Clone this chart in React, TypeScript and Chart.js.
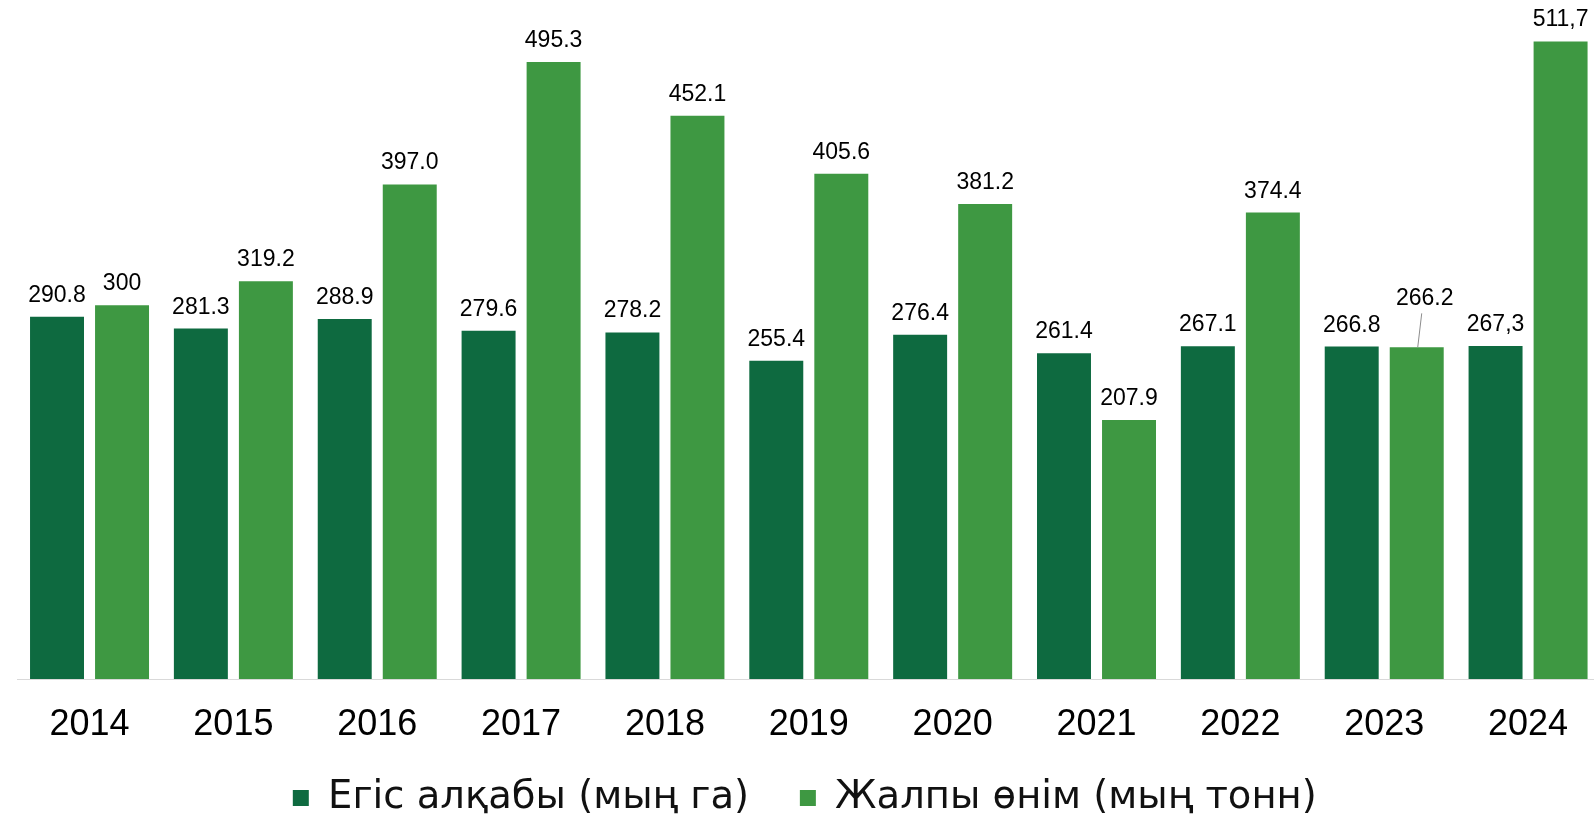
import React, { useEffect, useRef } from "react";
import { Chart, registerables } from "chart.js";

Chart.register(...registerables);

const years = ["2014", "2015", "2016", "2017", "2018", "2019", "2020", "2021", "2022", "2023", "2024"];
const areaValues = [290.8, 281.3, 288.9, 279.6, 278.2, 255.4, 276.4, 261.4, 267.1, 266.8, 267.3];
const yieldValues = [300, 319.2, 397.0, 495.3, 452.1, 405.6, 381.2, 207.9, 374.4, 266.2, 511.7];
const areaLabels = ["290.8", "281.3", "288.9", "279.6", "278.2", "255.4", "276.4", "261.4", "267.1", "266.8", "267,3"];
const yieldLabels = ["300", "319.2", "397.0", "495.3", "452.1", "405.6", "381.2", "207.9", "374.4", "266.2", "511,7"];
const seriesNames = ["Егіс алқабы (мың га)", "Жалпы өнім (мың тонн)"];

const DARK = "#0e6a40";
const LIGHT = "#3e9842";

const labelPlugin = {
  id: "barValueLabels",
  afterLayout(chart: any) {
    // give the x tick labels room to draw below the (compact) axis box
    const x = chart.scales.x;
    if (x) x.bottom = x.top + 90;
  },
  afterDatasetsDraw(chart: any) {
    const ctx = chart.ctx;
    const texts = [areaLabels, yieldLabels];
    ctx.save();
    ctx.font = "23px 'Liberation Sans', Arial, sans-serif";
    ctx.fillStyle = "#000";
    ctx.textAlign = "center";
    ctx.textBaseline = "alphabetic";
    chart.data.datasets.forEach((_ds: any, di: number) => {
      const meta = chart.getDatasetMeta(di);
      meta.data.forEach((bar: any, i: number) => {
        const txt = texts[di][i];
        // 2023 production label sits higher with a leader line
        if (di === 1 && i === 9) {
          ctx.fillText(txt, bar.x + 8, bar.y - 42);
          ctx.beginPath();
          ctx.strokeStyle = "#8c8c8c";
          ctx.lineWidth = 1;
          ctx.moveTo(bar.x + 5, bar.y - 34);
          ctx.lineTo(bar.x + 1, bar.y);
          ctx.stroke();
        } else {
          ctx.fillText(txt, bar.x, bar.y - 15);
        }
      });
    });
    ctx.restore();
  },
};

export default function App() {
  const ref = useRef<HTMLCanvasElement | null>(null);
  useEffect(() => {
    if (!ref.current) return;
    const chart = new Chart(ref.current, {
      type: "bar",
      data: {
        labels: years,
        datasets: [
          { label: seriesNames[0], data: areaValues, backgroundColor: DARK, borderWidth: 0 },
          { label: seriesNames[1], data: yieldValues, backgroundColor: LIGHT, borderWidth: 0 },
        ],
      },
      options: {
        animation: false,
        responsive: false,
        devicePixelRatio: 1,
        layout: { padding: { left: 9.6, right: 2, top: 0, bottom: 0.75 } },
        datasets: { bar: { categoryPercentage: 0.904, barPercentage: 0.83 } },
        scales: {
          x: {
            grid: { display: false, drawTicks: false },
            border: { display: true, color: "#d9d9d9", width: 1 },
            ticks: {
              color: "#000",
              padding: 24,
              font: { family: "'Liberation Sans', Arial, sans-serif", size: 36 },
            },
            afterFit: (scale: any) => {
              scale.height = 49;
            },
          },
          y: {
            display: true,
            min: 0,
            max: 545,
            grid: { display: false, drawTicks: false },
            border: { display: false },
            ticks: { display: false },
            afterFit: (scale: any) => {
              scale.width = 8;
            },
          },
        },
        plugins: {
          legend: {
            position: "bottom",
            labels: {
              boxWidth: 16,
              boxHeight: 16,
              padding: 50.75,
              color: "#111",
              font: { family: "'DejaVu Sans', sans-serif", size: 38.5 },
            },
          },
          tooltip: { enabled: false },
        },
      },
      plugins: [labelPlugin],
    } as any);
    return () => chart.destroy();
  }, []);
  return (
    <div style={{ position: "fixed", left: 0, top: 0, width: 1594, height: 823, overflow: "hidden", background: "#fff" }}>
      <canvas ref={ref} width={1602} height={828} style={{ display: "block" }} />
    </div>
  );
}
